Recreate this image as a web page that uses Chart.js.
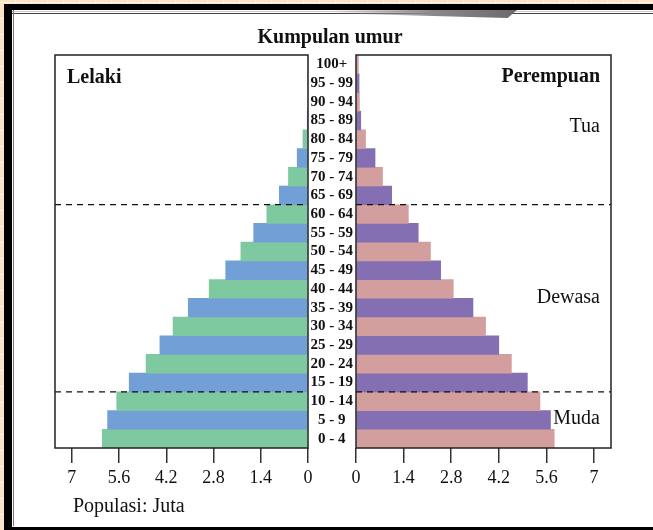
<!DOCTYPE html>
<html>
<head>
<meta charset="utf-8">
<script src="https://cdn.jsdelivr.net/npm/chart.js@4.4.1/dist/chart.umd.min.js"></script>
<style>
  html, body { margin: 0; padding: 0; background: #fbe3c8; }
  #wrap {
    position: relative; width: 653px; height: 530px; overflow: hidden;
    background:
      repeating-linear-gradient(90deg, transparent 0 15px, #fff4e8 15px 16px),
      repeating-linear-gradient(0deg, transparent 0 15px, #fff4e8 15px 16px),
      #fbe3c8;
  }
  #frame {
    position: absolute; left: 4px; top: 4px; right: -20px; bottom: 0;
    background: #fff;
    border-left: 8px solid #000; border-top: 6px solid #000; border-bottom: 3px solid #000;
  }
  #frame::before {
    content: ""; position: absolute; left: 0; right: 0; top: 1px; height: 1px;
    border-top: 1px solid #cfcfcf; border-bottom: 1px solid #444;
  }
  #frame::after {
    content: ""; position: absolute; left: 1px; top: 0; bottom: 1px; width: 1px;
    background: #777; border-bottom: 1px solid #777;
  }
  #wedge {
    position: absolute; left: 330px; top: 10px; width: 187px; height: 8px;
    clip-path: polygon(0 0, 100% 0, 95% 100%, 0 40%);
    background: linear-gradient(90deg, rgba(120,120,120,0) 0%, #8a8a8a 55%, #6a6a6a 100%);
  }
  canvas { position: absolute; left: 0; top: 0; }
</style>
</head>
<body>
<div id="wrap">
  <div id="frame"></div>
  <div id="wedge"></div>
  <canvas id="leftChart" width="653" height="530"></canvas>
  <canvas id="rightChart" width="653" height="530"></canvas>
</div>
<script>
// Age groups, youngest first (drawn bottom to top)
const ageGroups = ['0 - 4', '5 - 9', '10 - 14', '15 - 19', '20 - 24', '25 - 29', '30 - 34',
  '35 - 39', '40 - 44', '45 - 49', '50 - 54', '55 - 59', '60 - 64', '65 - 69', '70 - 74',
  '75 - 79', '80 - 84', '85 - 89', '90 - 94', '95 - 99', '100+'];

// Population in millions
const lelaki = [6.10, 5.94, 5.67, 5.30, 4.80, 4.39, 4.00, 3.55, 2.93, 2.44, 1.99,
  1.61, 1.22, 0.85, 0.58, 0.32, 0.15, 0.01, 0.0, 0.0, 0.0];
const perempuan = [5.83, 5.72, 5.41, 5.04, 4.57, 4.20, 3.81, 3.44, 2.86, 2.49, 2.19,
  1.83, 1.54, 1.05, 0.78, 0.56, 0.28, 0.14, 0.10, 0.09, 0.07];

const xTicks = [0, 1.4, 2.8, 4.2, 5.6, 7];
const dividers = [2.5, 12.5]; // between 10-14/15-19 and 60-64/65-69

const lelakiColors = ['#7ec9a0', '#729fd6'];
const perempuanColors = ['#d39e9e', '#846fb3'];

const serif = '"Liberation Serif", "Times New Roman", serif';

// box around each panel plus the dashed group lines
const panelBox = {
  id: 'panelBox',
  afterDatasetsDraw(chart) {
    const { ctx, chartArea: a, scales: { y } } = chart;
    ctx.save();
    ctx.setLineDash([6, 5]);
    ctx.lineWidth = 1.2;
    ctx.strokeStyle = '#111';
    dividers.forEach(d => {
      const py = (y.getPixelForValue(Math.floor(d)) + y.getPixelForValue(Math.ceil(d))) / 2;
      ctx.beginPath();
      ctx.moveTo(a.left, py);
      ctx.lineTo(a.right, py);
      ctx.stroke();
    });
    ctx.setLineDash([]);
    ctx.lineWidth = 1.5;
    ctx.strokeStyle = '#222';
    ctx.strokeRect(a.left, a.top, a.right - a.left, a.bottom - a.top);
    ctx.restore();
  }
};

function drawText(ctx, text, x, y, weight, align) {
  ctx.font = weight + ' 20px ' + serif;
  ctx.textAlign = align;
  ctx.textBaseline = 'alphabetic';
  ctx.fillStyle = '#111';
  ctx.fillText(text, x, y);
}

const leftTexts = {
  id: 'leftTexts',
  afterDraw(chart) {
    const ctx = chart.ctx;
    ctx.save();
    drawText(ctx, 'Kumpulan umur', 330, 43, 'bold', 'center');
    drawText(ctx, 'Lelaki', 67, 83, 'bold', 'left');
    drawText(ctx, 'Populasi: Juta', 73, 512, 'normal', 'left');
    ctx.restore();
  }
};

const rightTexts = {
  id: 'rightTexts',
  afterDraw(chart) {
    const ctx = chart.ctx;
    const r = chart.chartArea.right - 11;
    ctx.save();
    drawText(ctx, 'Perempuan', r, 82, 'bold', 'right');
    drawText(ctx, 'Tua', r, 132, 'normal', 'right');
    drawText(ctx, 'Dewasa', r, 303, 'normal', 'right');
    drawText(ctx, 'Muda', r, 424, 'normal', 'right');
    ctx.restore();
  }
};

function xScale(reverse) {
  return {
    type: 'linear',
    min: 0,
    max: 7.5,
    reverse: reverse,
    afterBuildTicks: scale => { scale.ticks = xTicks.map(v => ({ value: v })); },
    afterFit: scale => { scale.height = 45; },
    grid: { drawOnChartArea: false, drawTicks: true, tickLength: 15, color: '#333', lineWidth: 1.5 },
    border: { display: false },
    ticks: {
      padding: 4,
      color: '#111',
      font: { family: serif, size: 18 },
      callback: v => String(v)
    }
  };
}

Chart.defaults.animation = false;

new Chart(document.getElementById('leftChart'), {
  type: 'bar',
  data: {
    labels: ageGroups,
    datasets: [{
      data: lelaki,
      backgroundColor: lelaki.map((v, i) => lelakiColors[i % 2]),
      barPercentage: 1,
      categoryPercentage: 1
    }]
  },
  options: {
    indexAxis: 'y',
    responsive: false,
    layout: { padding: { left: 55, right: 345, top: 55, bottom: 37 } },
    plugins: { legend: { display: false }, tooltip: { enabled: false } },
    scales: {
      x: xScale(true),
      y: { type: 'category', reverse: true, display: false }
    }
  },
  plugins: [panelBox, leftTexts]
});

new Chart(document.getElementById('rightChart'), {
  type: 'bar',
  data: {
    labels: ageGroups,
    datasets: [{
      data: perempuan,
      backgroundColor: perempuan.map((v, i) => perempuanColors[i % 2]),
      barPercentage: 1,
      categoryPercentage: 1
    }]
  },
  options: {
    indexAxis: 'y',
    responsive: false,
    layout: { padding: { left: 308, right: 42, top: 55, bottom: 37 } },
    plugins: { legend: { display: false }, tooltip: { enabled: false } },
    scales: {
      x: xScale(false),
      y: {
        type: 'category',
        reverse: true,
        afterFit: scale => { scale.width = 48; },
        grid: { display: false, drawTicks: false },
        border: { display: false },
        ticks: {
          crossAlign: 'center',
          padding: 3,
          autoSkip: false,
          color: '#111',
          font: { family: serif, size: 15, weight: 'bold' }
        }
      }
    }
  },
  plugins: [panelBox, rightTexts]
});
</script>
</body>
</html>
